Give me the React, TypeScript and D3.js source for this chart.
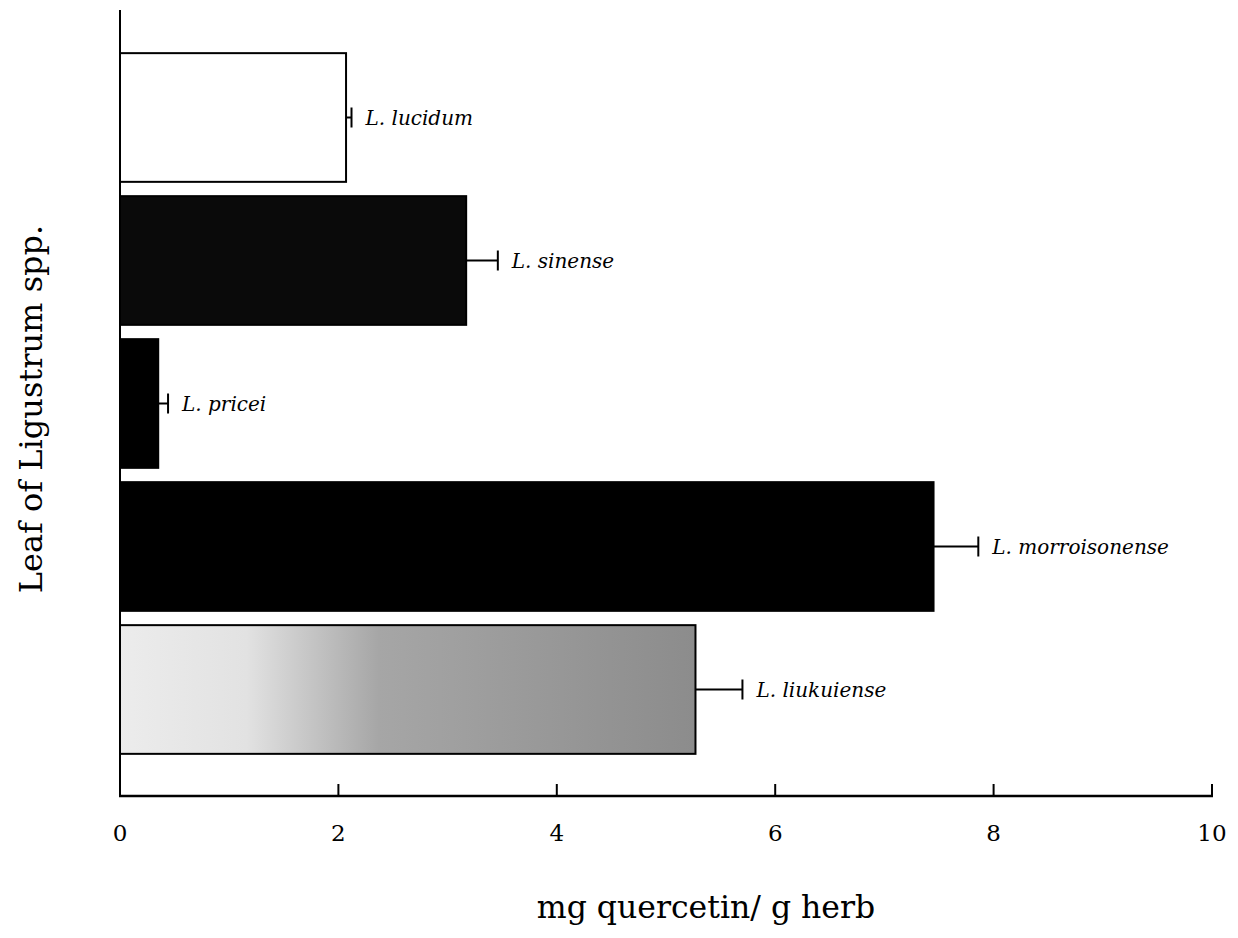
import React from "react";
import * as d3 from "d3";

const species = ["L. lucidum", "L. sinense", "L. pricei", "L. morroisonense", "L. liukuiense"];
const means = [2.07, 3.17, 0.35, 7.45, 5.27];
const errors = [0.05, 0.29, 0.09, 0.41, 0.43];
const fills = ["#ffffff", "#0a0a0a", "#000000", "#000000", "url(#stipple)"];
const xTicks = [0, 2, 4, 6, 8, 10];
const xTitle = "mg quercetin/ g herb";
const yTitle = "Leaf of Ligustrum spp.";

export default function App() {
  const W = 1238, H = 938;
  const x = d3.scaleLinear().domain([0, 10]).range([120, 1212]);
  const y = d3.scaleBand<string>().domain(species).range([46, 761]).paddingInner(0.1).paddingOuter(0.05);
  const axisY = 796;
  const serif = "'DejaVu Serif', 'Liberation Serif', serif";
  return (
    <div style={{ position: "absolute", left: 0, top: 0 }}>
      <svg width={W} height={H} style={{ display: "block", background: "#fff" }}>
        <defs>
          <linearGradient id="stipple" x1="0" x2="1" y1="0" y2="0">
            <stop offset="0%" stopColor="#ececec" />
            <stop offset="22%" stopColor="#e2e2e2" />
            <stop offset="45%" stopColor="#a6a6a6" />
            <stop offset="100%" stopColor="#8c8c8c" />
          </linearGradient>
        </defs>
        {species.map((s, i) => {
          const y0 = y(s)!;
          const bw = y.bandwidth();
          const cy = y0 + bw / 2;
          const xe = x(means[i] + errors[i]);
          return (
            <g key={s}>
              <rect x={x(0)} y={y0} width={x(means[i]) - x(0)} height={bw} fill={fills[i]} stroke="#000" strokeWidth={2} />
              <line x1={x(means[i])} x2={xe} y1={cy} y2={cy} stroke="#000" strokeWidth={2} />
              <line x1={xe} x2={xe} y1={cy - 10} y2={cy + 10} stroke="#000" strokeWidth={2} />
              <text x={xe + 14} y={cy + 7} fontFamily={serif} fontStyle="italic" fontSize={20} fill="#000">{s}</text>
            </g>
          );
        })}
        <line x1={120} x2={120} y1={10} y2={axisY} stroke="#000" strokeWidth={2} />
        <line x1={119} x2={1213} y1={axisY} y2={axisY} stroke="#000" strokeWidth={2.5} />
        {xTicks.map((t) => (
          <g key={t}>
            <line x1={x(t)} x2={x(t)} y1={axisY} y2={axisY - 12} stroke="#000" strokeWidth={2} />
            <text x={x(t)} y={841} textAnchor="middle" fontFamily={serif} fontSize={23} fill="#000">{t}</text>
          </g>
        ))}
        <text x={706} y={918} textAnchor="middle" fontFamily={serif} fontSize={31.5} fill="#000">{xTitle}</text>
        <text transform={`translate(42,409) rotate(-90)`} textAnchor="middle" fontFamily={serif} fontSize={32} fill="#000">{yTitle}</text>
      </svg>
    </div>
  );
}
